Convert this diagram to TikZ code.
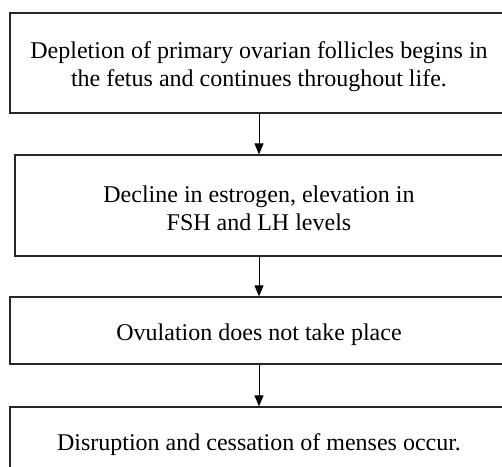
\documentclass[tikz,border=0pt]{standalone}
\usepackage{fontspec}
\setmainfont{Liberation Serif}
\usetikzlibrary{arrows.meta}
\begin{document}
\begin{tikzpicture}[x=1pt,y=-1pt,
  box/.style={draw=black!85, line width=1.3pt, inner sep=0pt},
  txt/.style={align=center, inner sep=0pt, yshift=-4pt,
    font=\fontsize{24pt}{28pt}\selectfont},
  arr/.style={draw=black, line width=1pt, -{Triangle[width=9pt,length=11pt]}}]
\useasboundingbox (0,0) rectangle (502,466);
\clip (0,0) rectangle (502,466);
\node[box, minimum width=498pt, minimum height=100pt] (b1) at (259,63) {};
\node[box, minimum width=488pt, minimum height=101pt] (b2) at (259,205.5) {};
\node[box, minimum width=498pt, minimum height=67pt] (b3) at (259,330.5) {};
\node[box, minimum width=498pt, minimum height=70pt] (b4) at (259,442) {};
\node[txt] (t1) at (b1.center)
  {Depletion of primary ovarian follicles begins in\\the fetus and continues throughout life.};
\node[txt, yshift=1pt] (t2) at (b2.center)
  {Decline in estrogen, elevation in\\FSH and LH levels};
\node[txt] (t3) at (b3.center) {Ovulation does not take place};
\node[txt, yshift=1pt] (t4) at (b4.center) {Disruption and cessation of menses occur.};
\draw[arr] (b1.south) -- (b2.north);
\draw[arr] (b2.south) -- (b3.north);
\draw[arr] (b3.south) -- (b4.north);
\end{tikzpicture}
\end{document}
